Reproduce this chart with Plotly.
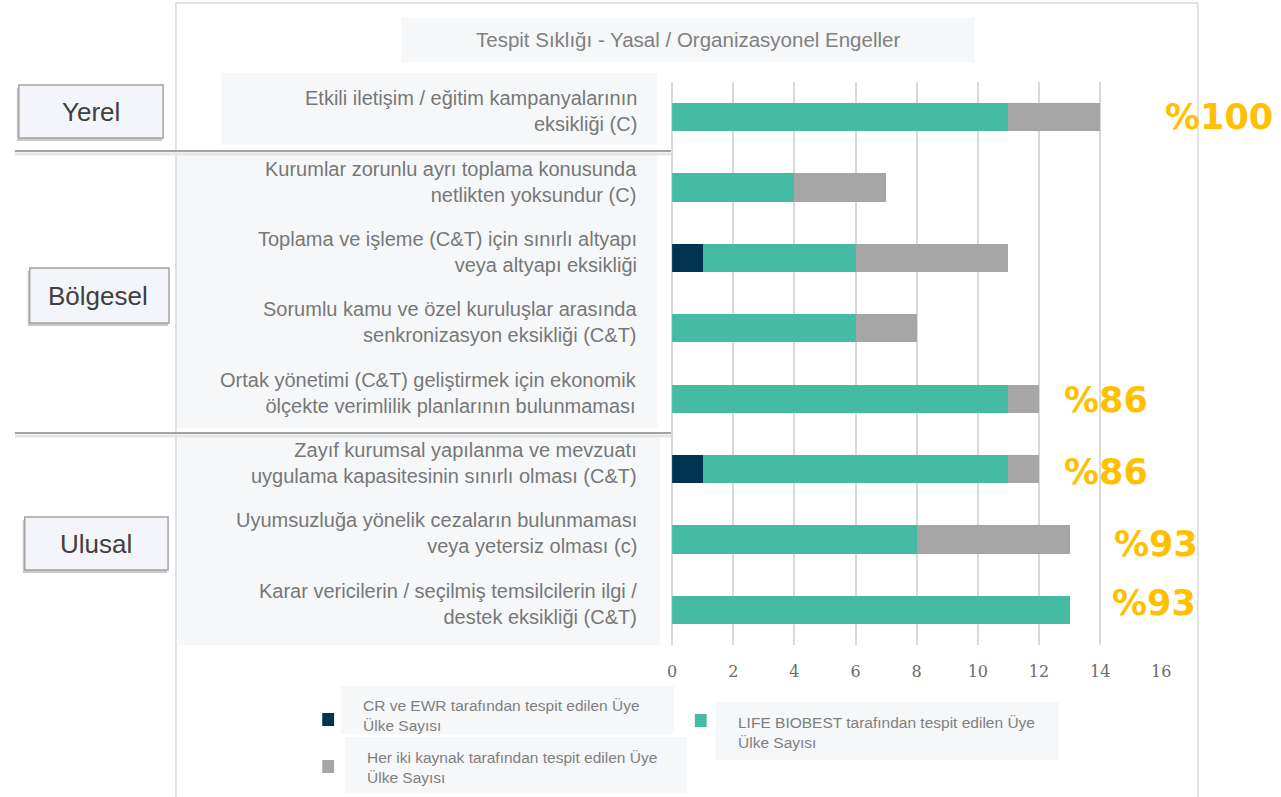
import plotly.graph_objects as go

W, H = 1281, 797

# ---------------- data ----------------
categories = [
    "Etkili iletişim / eğitim kampanyalarının<br>eksikliği (C)",
    "Kurumlar zorunlu ayrı toplama konusunda<br>netlikten yoksundur (C)",
    "Toplama ve işleme (C&T) için sınırlı altyapı<br>veya altyapı eksikliği",
    "Sorumlu kamu ve özel kuruluşlar arasında<br>senkronizasyon eksikliği (C&T)",
    "Ortak yönetimi (C&T) geliştirmek için ekonomik<br>ölçekte verimlilik planlarının bulunmaması",
    "Zayıf kurumsal yapılanma ve mevzuatı<br>uygulama kapasitesinin sınırlı olması (C&T)",
    "Uyumsuzluğa yönelik cezaların bulunmaması<br>veya yetersiz olması (c)",
    "Karar vericilerin / seçilmiş temsilcilerin ilgi /<br>destek eksikliği (C&T)",
]
cr_ewr = [0, 0, 1, 0, 0, 1, 0, 0]
life_biobest = [11, 4, 5, 6, 11, 10, 8, 13]
both_sources = [3, 3, 5, 2, 1, 1, 5, 0]
pct_labels = ["%100", "", "", "", "%86", "%86", "%93", "%93"]
x_ticks = [0, 2, 4, 6, 8, 10, 12, 14, 16]
series_names = [
    "CR ve EWR tarafından tespit edilen Üye<br>Ülke Sayısı",
    "LIFE BIOBEST tarafından tespit edilen Üye<br>Ülke Sayısı",
    "Her iki kaynak tarafından tespit edilen Üye<br>Ülke Sayısı",
]
groups = ["Yerel", "Bölgesel", "Ulusal"]
title_text = "Tespit Sıklığı - Yasal / Organizasyonel Engeller"

# ---------------- style ----------------
NAVY = "#003352"
TEAL = "#45BBA4"
GREY = "#A6A6A6"
PCT_COLOR = "#FFC000"
LABEL_COLOR = "#777777"
BOX_BG = "#F6F7F9"


def px(x):
    return x / W


def py(y):
    return 1 - y / H


fig = go.Figure()
for vals, color, name in zip([cr_ewr, life_biobest, both_sources],
                             [NAVY, TEAL, GREY], series_names):
    fig.add_trace(go.Bar(
        y=categories, x=vals, orientation="h", name=name,
        marker=dict(color=color, line=dict(width=0)),
        showlegend=False, hoverinfo="x+name",
    ))

shapes = []


def rect(x0, y0, x1, y1, fill=None, line=None, lw=0, layer="below"):
    shapes.append(dict(type="rect", xref="paper", yref="paper",
                       x0=px(x0), x1=px(x1), y0=py(y1), y1=py(y0),
                       fillcolor=fill if fill else "rgba(0,0,0,0)",
                       line=dict(color=line if line else "rgba(0,0,0,0)", width=lw),
                       layer=layer))


def hline(x0, x1, y, color, width, layer="below"):
    shapes.append(dict(type="line", xref="paper", yref="paper",
                       x0=px(x0), x1=px(x1), y0=py(y), y1=py(y),
                       line=dict(color=color, width=width), layer=layer))


# label backgrounds
rect(219, 73, 660, 145, fill=BOX_BG)
rect(173, 153, 660, 428, fill=BOX_BG)
rect(175, 437, 663, 645, fill=BOX_BG)
# title background
rect(401, 18, 981, 62, fill=BOX_BG)
# outer frame
rect(173, 3, 1207, 805, line="#d9d9d9", lw=1.5)
# separators with soft shadow
for yy in (151, 433):
    hline(10, 676, yy + 3, "#e6e6e6", 3)
    hline(10, 676, yy, "#a3a3a3", 2)

# group boxes with shadow
group_boxes = [(14, 85, 160, 138), (25, 268, 166, 323), (20, 517, 165, 570)]
for (x0, y0, x1, y1) in group_boxes:
    rect(x0 - 2, y0 + 3, x1 - 1, y1 + 3, fill="#c8c8c8")
    rect(x0, y0, x1, y1, fill="#F4F5FA", line="#a3a3a3", lw=1.5)

# legend boxes & swatches
legend_boxes = [(340, 686, 677, 734), (344, 737, 690, 793), (719, 702, 1066, 760)]
for (x0, y0, x1, y1) in legend_boxes:
    rect(x0, y0, x1, y1, fill=BOX_BG)
swatches = [(321, 713, NAVY), (698, 714, TEAL), (321, 760, GREY)]
for (x0, y0, c) in swatches:
    rect(x0, y0, x0 + 12, y0 + 13, fill=c)

annotations = []
# title
annotations.append(dict(xref="paper", yref="paper", x=px(691), y=py(40),
                        text=title_text, showarrow=False,
                        font=dict(family="Liberation Sans, Arial", size=20.5, color="#808080"),
                        xanchor="center", yanchor="middle"))
# category labels
for cat in categories:
    annotations.append(dict(xref="paper", yref="y", x=px(642), y=cat,
                            text=cat, showarrow=False, align="right",
                            xanchor="right", yanchor="middle", yshift=6,
                            font=dict(family="Liberation Sans, Arial", size=20,
                                      color=LABEL_COLOR)))
# group labels
group_centers = [(87, 112), (94, 296), (92, 544)]
for g, (cx, cy) in zip(groups, group_centers):
    annotations.append(dict(xref="paper", yref="paper", x=px(cx), y=py(cy),
                            text=g, showarrow=False, xanchor="center", yanchor="middle",
                            font=dict(family="Liberation Sans, Arial", size=26,
                                      color="#404040")))
# percentage labels (offsets in px from bar end)
pct_offsets = {0: (63, 0), 4: (23, -1), 5: (23, -3), 6: (42, -5), 7: (40, 7)}
totals = [a + b + c for a, b, c in zip(cr_ewr, life_biobest, both_sources)]
for i, lab in enumerate(pct_labels):
    if not lab:
        continue
    dx, dy = pct_offsets.get(i, (20, 0))
    annotations.append(dict(xref="x", yref="y", x=totals[i], y=categories[i],
                            text=lab, showarrow=False, xanchor="left", yanchor="middle",
                            xshift=dx, yshift=dy,
                            font=dict(family="DejaVu Sans", size=35, color=PCT_COLOR,
                                      weight="bold")))
# legend texts
legend_text_pos = [(360, 715), (740, 732), (364, 767)]
for name, (tx, ty) in zip(series_names, legend_text_pos):
    annotations.append(dict(xref="paper", yref="paper", x=px(tx), y=py(ty),
                            text=name, showarrow=False, align="left",
                            xanchor="left", yanchor="middle",
                            font=dict(family="Liberation Sans, Arial", size=15.5,
                                      color="#7f7f7f")))

fig.update_layout(
    width=W, height=H, autosize=False,
    margin=dict(l=0, r=0, t=0, b=0),
    paper_bgcolor="white", plot_bgcolor="rgba(0,0,0,0)",
    barmode="stack", bargap=0.6,
    shapes=shapes, annotations=annotations,
    showlegend=False,
    xaxis=dict(domain=[px(675), px(1170)], range=[0, 16], tickvals=x_ticks,
               showgrid=True, gridcolor="#d9d9d9", gridwidth=1.5,
               zeroline=True, zerolinecolor="#d9d9d9", zerolinewidth=1.5,
               showline=False, ticks="", ticklabelstandoff=15,
               tickfont=dict(family="DejaVu Serif", size=16, color="#6b6b6b"),
               fixedrange=True),
    yaxis=dict(domain=[py(645), py(82)], categoryorder="array",
               categoryarray=categories, autorange="reversed",
               showticklabels=False, showgrid=False, zeroline=False,
               showline=False, ticks="", fixedrange=True),
)

fig.write_html("out.html", post_script="document.body.style.margin='0';",
               config={"displayModeBar": False})
